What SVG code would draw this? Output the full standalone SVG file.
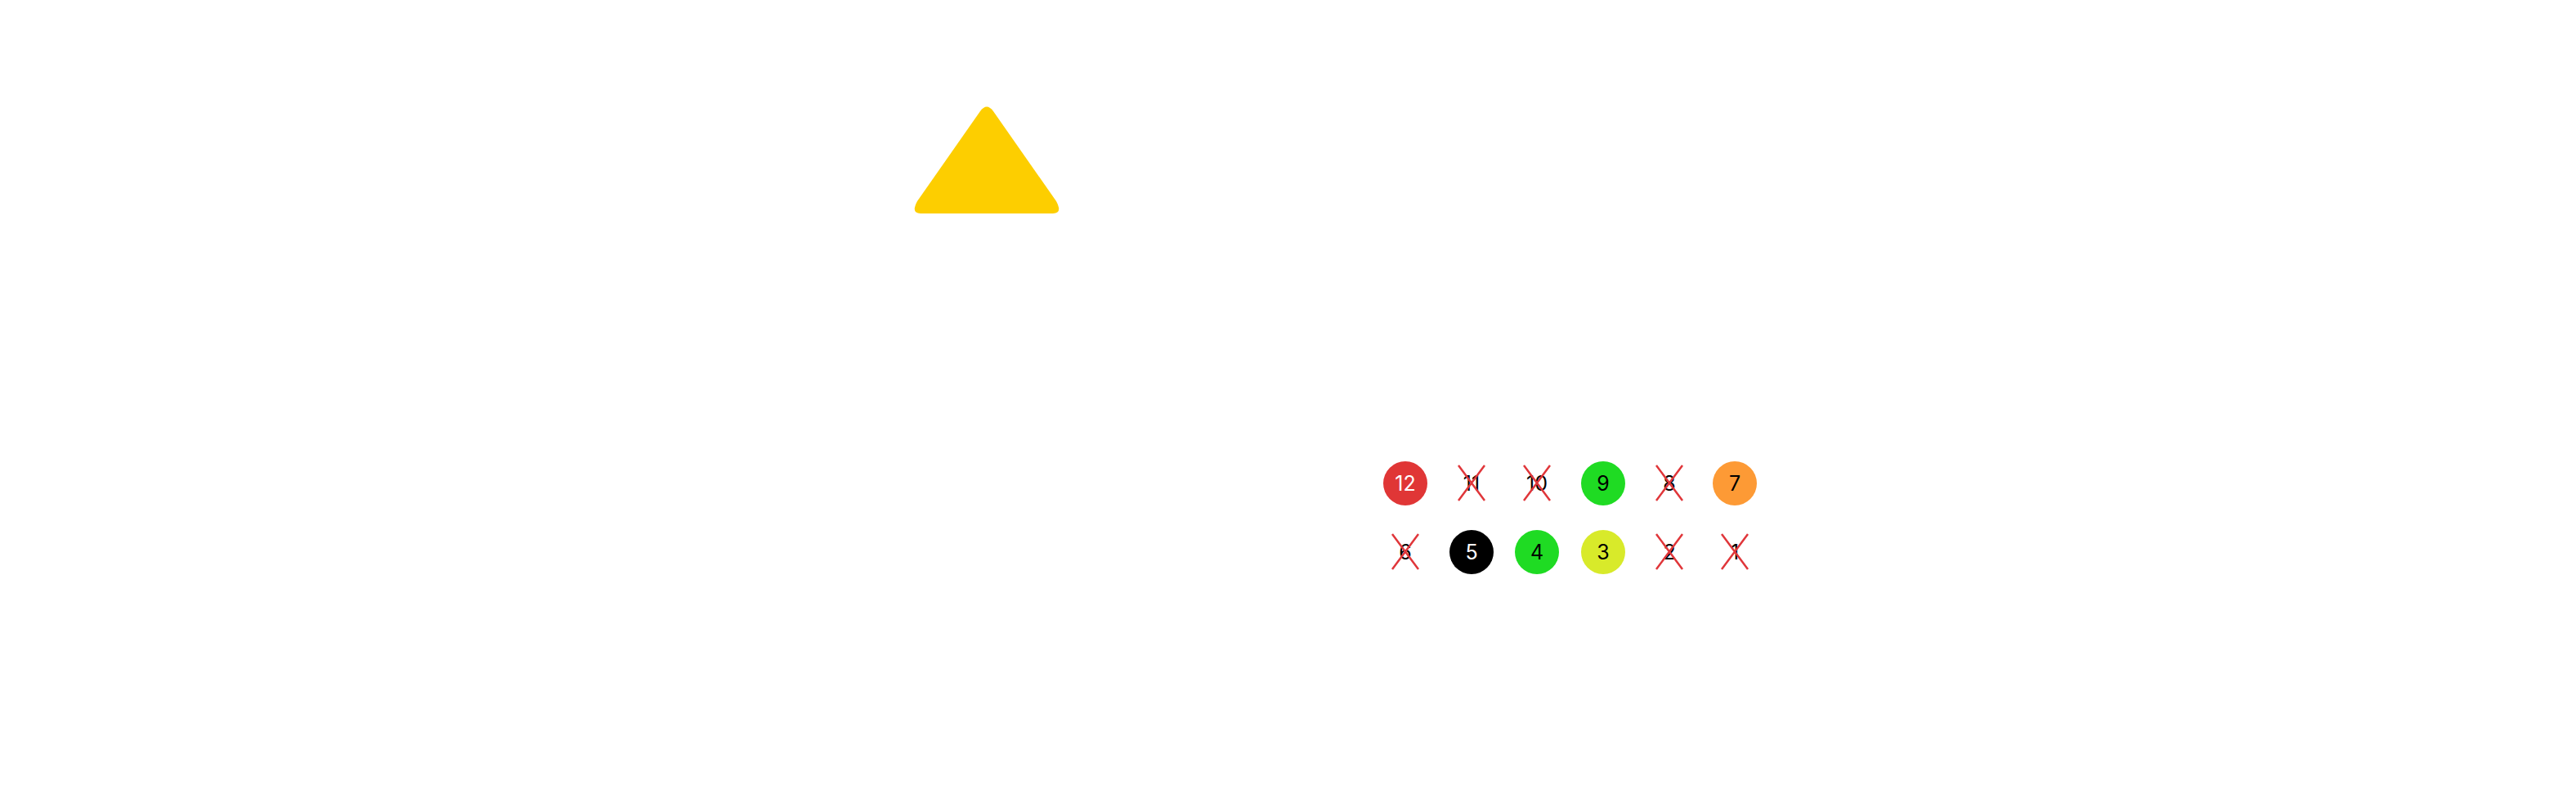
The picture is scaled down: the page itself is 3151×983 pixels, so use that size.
<svg xmlns="http://www.w3.org/2000/svg" width="3151" height="983" viewBox="0 0 3151 983">
<style>
text{font-family:"Inter","Liberation Sans",sans-serif;font-size:25px;text-anchor:middle;dominant-baseline:central}
.x{stroke:#e0363a;stroke-width:2.5}
.w{fill:#fff}
</style>
<rect width="3151" height="983" fill="#fff"/>
<g id="triangle"><path d="M1199,136 Q1207,125 1215,136 L1292,246 Q1300,261 1288,261 L1126,261 Q1114,261 1122,246 Z" fill="#fdce00"/></g>
<g id="n12"><circle cx="1719" cy="591" r="27" fill="#e03636"/><text x="1719" y="591" class="w">12</text></g>
<g id="n11"><text x="1800" y="591">11</text><path class="x" d="M1784,569L1816,612M1816,569L1784,612"/></g>
<g id="n10"><text x="1880" y="591">10</text><path class="x" d="M1864,569L1896,612M1896,569L1864,612"/></g>
<g id="n9"><circle cx="1961" cy="591" r="27" fill="#1fdb23"/><text x="1961" y="591">9</text></g>
<g id="n8"><text x="2042" y="591">8</text><path class="x" d="M2026,569L2058,612M2058,569L2026,612"/></g>
<g id="n7"><circle cx="2122" cy="591" r="27" fill="#fd9a35"/><text x="2122" y="591">7</text></g>
<g id="n6"><text x="1719" y="675">6</text><path class="x" d="M1703,653L1735,696M1735,653L1703,696"/></g>
<g id="n5"><circle cx="1800" cy="675" r="27" fill="#000"/><text x="1800" y="675" class="w">5</text></g>
<g id="n4"><circle cx="1880" cy="675" r="27" fill="#1fdb23"/><text x="1880" y="675">4</text></g>
<g id="n3"><circle cx="1961" cy="675" r="27" fill="#d8ea2a"/><text x="1961" y="675">3</text></g>
<g id="n2"><text x="2042" y="675">2</text><path class="x" d="M2026,653L2058,696M2058,653L2026,696"/></g>
<g id="n1"><text x="2122" y="675">1</text><path class="x" d="M2106,653L2138,696M2138,653L2106,696"/></g>
<g id="connectors"/>
</svg>
